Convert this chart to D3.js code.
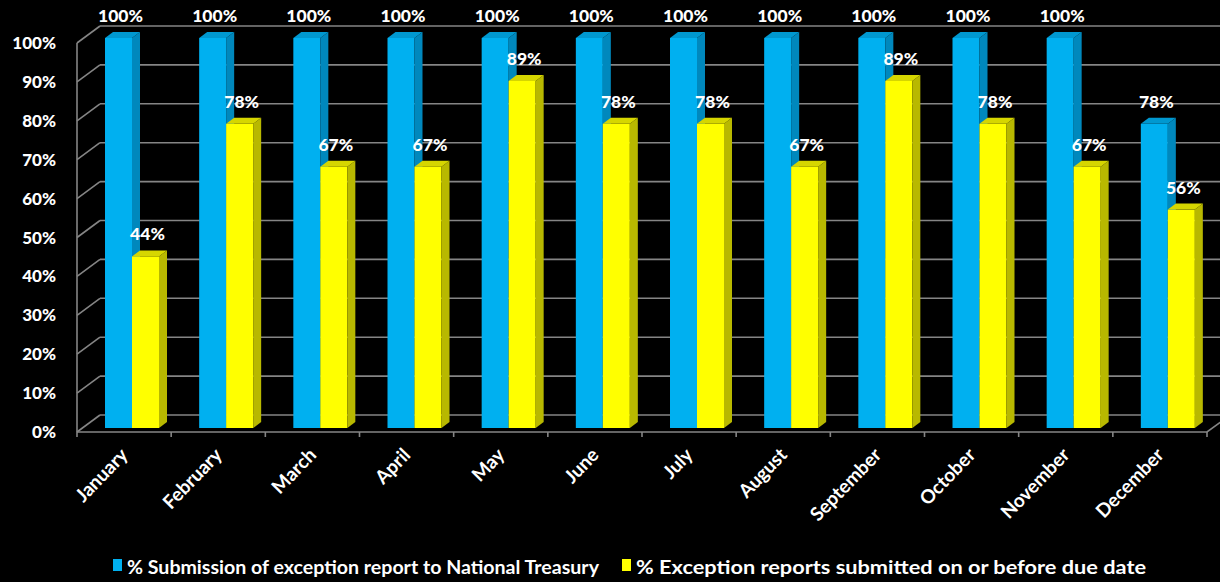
<!DOCTYPE html>
<html>
<head>
<meta charset="utf-8">
<script src="https://cdn.jsdelivr.net/npm/d3@7"></script>
<style>
  body { margin: 0; background: #000; }
  svg { display: block; }
  .tick-label, .value-label, .month-label { font-family: Lato, "Open Sans", sans-serif; font-weight: 900; fill: #fff; }
  .month-label { font-weight: bold; }
  .legend-label { font-family: Lato, "Open Sans", sans-serif; font-weight: bold; fill: #fff; }
</style>
</head>
<body>
<svg id="chart"></svg>
<script>
const months = ['January', 'February', 'March', 'April', 'May', 'June', 'July', 'August', 'September', 'October', 'November', 'December']
const submission = [100, 100, 100, 100, 100, 100, 100, 100, 100, 100, 100, 78]
const onTime = [44, 78, 67, 67, 89, 78, 78, 67, 89, 78, 67, 56]
const yTicks = [0, 10, 20, 30, 40, 50, 60, 70, 80, 90, 100]
const seriesNames = ['% Submission of exception report to National Treasury', '% Exception reports submitted on or before due date']

function chart() {
	const width = 1220
	const height = 582

	// floor front edge and back wall offset (fake 3d)
	const front = { left: 77, right: 1207, bottom: 432, top: 43 }
	const wall = { dx: 23, dy: -17 }
	const barDepth = { dx: 8, dy: -6 }

	const svg = d3.select('#chart').attr('width', width).attr('height', height)

	const xScale = d3.scaleBand().domain(months).range([front.left, front.right])
	const yFront = d3.scaleLinear().domain([0, 100]).range([front.bottom, front.top])
	const yBar = d3.scaleLinear().domain([0, 100]).range([428, 38])

	const grid = svg.append('g').attr('stroke', '#858585').attr('stroke-width', 1.6).attr('fill', 'none')

	// back wall gridlines
	grid
		.selectAll('line.back')
		.data(yTicks)
		.join('line')
		.attr('class', 'back')
		.attr('x1', front.left + wall.dx)
		.attr('x2', front.right + wall.dx)
		.attr('y1', d => yFront(d) + wall.dy)
		.attr('y2', d => yFront(d) + wall.dy)

	// left wall diagonals
	grid
		.selectAll('line.side')
		.data(yTicks)
		.join('line')
		.attr('class', 'side')
		.attr('x1', front.left)
		.attr('x2', front.left + wall.dx)
		.attr('y1', d => yFront(d))
		.attr('y2', d => yFront(d) + wall.dy)

	grid
		.append('line')
		.attr('x1', front.left)
		.attr('x2', front.left)
		.attr('y1', yFront(0))
		.attr('y2', yFront(100))

	// floor
	grid
		.append('path')
		.attr(
			'd',
			`M${front.left},${front.bottom}L${front.right},${front.bottom}L${front.right + wall.dx},${front.bottom + wall.dy}`
		)

	grid
		.selectAll('line.xtick')
		.data(months.concat(['end']))
		.join('line')
		.attr('class', 'xtick')
		.attr('x1', (d, i) => front.left + i * xScale.bandwidth())
		.attr('x2', (d, i) => front.left + i * xScale.bandwidth())
		.attr('y1', front.bottom)
		.attr('y2', front.bottom + 5)

	// y labels
	svg
		.selectAll('text.tick-label')
		.data(yTicks)
		.join('text')
		.attr('class', 'tick-label')
		.attr('x', 56)
		.attr('y', d => yFront(d) + 6)
		.attr('text-anchor', 'end')
		.attr('font-size', 17)
		.text(d => d + '%')

	const series = [
		{ values: submission, front: '#00b0f0', side: '#0088bd', top: '#0098d0', offset: 28 },
		{ values: onTime, front: '#ffff00', side: '#b8b800', top: '#d6d600', offset: 55 }
	]
	const barWidth = 27

	series.forEach(s => {
		const g = svg.append('g')
		const bars = g
			.selectAll('g')
			.data(months.map((m, i) => ({ month: m, value: s.values[i] })))
			.join('g')
			.attr('transform', d => `translate(${xScale(d.month) + s.offset},0)`)

		bars
			.append('rect')
			.attr('x', 0)
			.attr('y', d => yBar(d.value))
			.attr('width', barWidth)
			.attr('height', d => yBar(0) - yBar(d.value))
			.attr('fill', s.front)

		bars
			.append('path')
			.attr('fill', s.side)
			.attr(
				'd',
				d =>
					`M${barWidth},${yBar(d.value)}l${barDepth.dx},${barDepth.dy}L${barWidth + barDepth.dx},${yBar(0) + barDepth.dy}L${barWidth},${yBar(0)}Z`
			)

		bars
			.append('path')
			.attr('fill', s.top)
			.attr(
				'd',
				d => `M0,${yBar(d.value)}l${barDepth.dx},${barDepth.dy}h${barWidth}l${-barDepth.dx},${-barDepth.dy}Z`
			)

		bars
			.append('text')
			.attr('class', 'value-label')
			.attr('x', barWidth / 2 + 2)
			.attr('y', d => yBar(d.value) - 16)
			.attr('text-anchor', 'middle')
			.attr('font-size', 17.5)
			.text(d => d.value + '%')
	})

	// month labels
	svg
		.selectAll('text.month-label')
		.data(months)
		.join('text')
		.attr('class', 'month-label')
		.attr('text-anchor', 'end')
		.attr('font-size', 19)
		.attr('transform', d => `translate(${xScale(d) + xScale.bandwidth() / 2 + 5},${front.bottom + 24}) rotate(-46)`)
		.text(d => d)

	// legend
	const legendX = [113, 622]
	const legendLen = [472, 510]
	const legend = svg
		.selectAll('g.legend')
		.data(seriesNames)
		.join('g')
		.attr('class', 'legend')
		.attr('transform', (d, i) => `translate(${legendX[i]},567)`)

	legend
		.append('rect')
		.attr('x', 0)
		.attr('y', -8)
		.attr('width', 9)
		.attr('height', 12)
		.attr('fill', (d, i) => series[i].front)

	legend
		.append('text')
		.attr('class', 'legend-label')
		.attr('x', 14)
		.attr('y', 7)
		.attr('font-size', 19)
		.attr('textLength', (d, i) => legendLen[i])
		.attr('lengthAdjust', 'spacingAndGlyphs')
		.text(d => d)
}

chart()
</script>
</body>
</html>
